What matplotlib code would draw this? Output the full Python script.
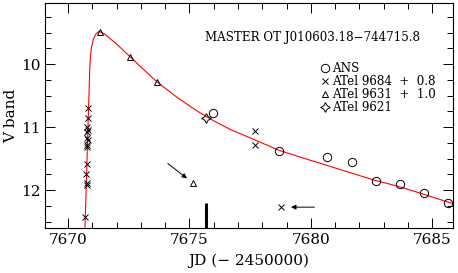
import numpy as np
import matplotlib
matplotlib.use("Agg")
import matplotlib.pyplot as plt
from matplotlib.ticker import MultipleLocator

plt.rcParams['font.family'] = ['DejaVu Serif']

# ANS photometry
ans_jd = [7675.97, 7678.68, 7680.66, 7681.69, 7682.67, 7683.66, 7684.65, 7685.64]
ans_v = [10.78, 11.38, 11.48, 11.56, 11.86, 11.90, 12.05, 12.21]

# ATel 9684 + 0.8
a9684_jd = [7670.84, 7670.84, 7670.79, 7670.84, 7670.79, 7670.79, 7670.84, 7670.77,
            7670.79, 7670.79, 7670.74, 7670.77, 7670.77, 7670.70, 7677.70, 7677.70, 7678.77]
a9684_v = [10.70, 10.85, 11.00, 11.04, 11.07, 11.17, 11.21, 11.29,
           11.31, 11.59, 11.75, 11.88, 11.92, 12.42, 11.06, 11.29, 12.27]

# ATel 9631 + 1.0
a9631_jd = [7671.32, 7672.55, 7673.66, 7675.14]
a9631_v = [9.49, 9.89, 10.29, 11.89]

# ATel 9621
a9621_jd = [7675.68]
a9621_v = [10.86]

# fitted light curve
fit_jd = [7670.70, 7670.76, 7670.82, 7670.86, 7670.90, 7670.93, 7670.97, 7671.05, 7671.15,
          7671.28, 7671.50, 7672.00, 7672.55, 7673.10, 7673.66, 7674.50, 7675.30, 7676.00,
          7676.70, 7677.50, 7678.70, 7679.60, 7680.60, 7681.60, 7682.60, 7683.60, 7684.60, 7685.90]
fit_v = [12.60, 11.85, 11.05, 10.55, 10.05, 9.85, 9.73, 9.60, 9.52,
         9.48, 9.52, 9.68, 9.88, 10.08, 10.28, 10.53, 10.74, 10.90,
         11.04, 11.17, 11.37, 11.48, 11.60, 11.72, 11.84, 11.94, 12.06, 12.22]

fig = plt.figure(figsize=(4.58, 2.73), dpi=100)
ax = fig.add_axes([0.098, 0.165, 0.891, 0.824])

ax.plot(fit_jd, fit_v, color='red', lw=0.8, zorder=1)
ax.plot(ans_jd, ans_v, 'o', mfc='none', mec='k', ms=6, mew=0.7, ls='none', label='ANS')
ax.plot(a9684_jd, a9684_v, 'x', color='k', ms=4, mew=0.7, ls='none', label='ATel 9684  +  0.8')
ax.plot(a9631_jd, a9631_v, '^', mfc='none', mec='k', ms=5, mew=0.7, ls='none', label='ATel 9631  +  1.0')
ax.plot(a9621_jd, a9621_v, marker=(4, 1, 0), mfc='none', mec='k', ms=7, mew=0.7, ls='none', label='ATel 9621')

# arrows and marker bar
ax.annotate('', xy=(7674.99, 11.84), xytext=(7674.02, 11.55),
            arrowprops=dict(arrowstyle='-|>', color='k', lw=0.7, mutation_scale=7))
ax.annotate('', xy=(7679.07, 12.27), xytext=(7680.26, 12.27),
            arrowprops=dict(arrowstyle='-|>', color='k', lw=0.7, mutation_scale=7))
ax.plot([7675.68, 7675.68], [12.20, 12.6], color='k', lw=2.2, solid_capstyle='butt')

ax.text(7675.64, 9.58, 'MASTER OT J010603.18\u2212744715.8', fontsize=8.6, va='center')

ax.legend(loc='upper left', bbox_to_anchor=(0.677, 0.738), frameon=False, fontsize=8.6,
          handlelength=0.6, handletextpad=0.3, labelspacing=0.0, borderpad=0, borderaxespad=0)

ax.set_xlim(7669.05, 7685.85)
ax.set_ylim(12.6, 9.03)
ax.xaxis.set_major_locator(MultipleLocator(5))
ax.xaxis.set_minor_locator(MultipleLocator(1))
ax.yaxis.set_major_locator(MultipleLocator(1))
ax.yaxis.set_minor_locator(MultipleLocator(0.25))
ax.tick_params(which='both', direction='in', top=True, right=True, labelsize=11)
ax.tick_params(axis='y', pad=3)
ax.tick_params(which='major', length=7, width=0.7)
ax.tick_params(which='minor', length=4, width=0.7)
for s in ax.spines.values():
    s.set_linewidth(0.8)

ax.set_xlabel('JD (\u2212 2450000)', fontsize=11, labelpad=5)
ax.set_ylabel('V band', fontsize=11, labelpad=2)

fig.savefig('out.png', dpi=100)
